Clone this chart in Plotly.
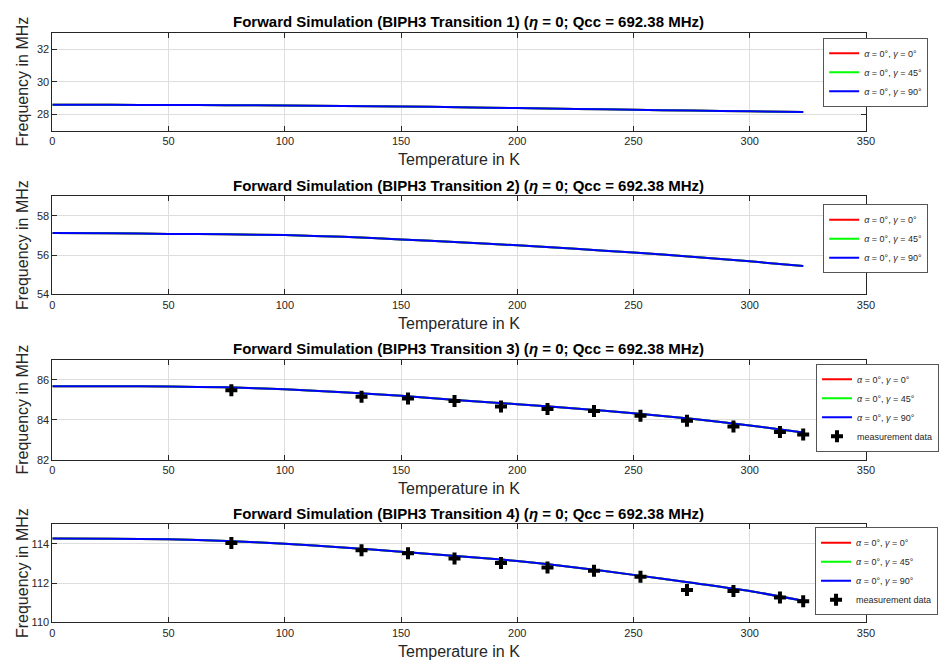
import plotly.graph_objects as go

# ---------------- data ----------------
T_sim = [0, 25, 50, 75, 100, 125, 150, 175, 200, 225, 250, 275, 300, 323]
f_sim_1 = [28.59, 28.59, 28.58, 28.57, 28.55, 28.52, 28.49, 28.44, 28.39, 28.34, 28.29, 28.24, 28.19, 28.15]
f_sim_2 = [57.12, 57.11, 57.08, 57.06, 57.02, 56.93, 56.80, 56.66, 56.50, 56.32, 56.13, 55.92, 55.68, 55.45]
f_sim_3 = [85.68, 85.68, 85.66, 85.62, 85.52, 85.38, 85.20, 84.98, 84.78, 84.56, 84.33, 84.05, 83.72, 83.36]
f_sim_4 = [114.27, 114.26, 114.23, 114.15, 114.00, 113.82, 113.60, 113.37, 113.13, 112.80, 112.42, 112.02, 111.60, 111.10]

T_meas = [77, 133, 153, 173, 193, 213, 233, 253, 273, 293, 313, 323]
f_meas_3 = [85.48, 85.15, 85.06, 84.94, 84.67, 84.54, 84.44, 84.20, 83.95, 83.67, 83.39, 83.27]
f_meas_4 = [114.05, 113.68, 113.52, 113.26, 113.03, 112.80, 112.63, 112.33, 111.65, 111.60, 111.27, 111.08]

transitions = ["1", "2", "3", "4"]
y_ranges = [(27, 33), (54, 59), (82, 87), (110, 115)]
y_ticks = [[28, 30, 32], [54, 56, 58], [82, 84, 86], [110, 112, 114]]
x_ticks = [0, 50, 100, 150, 200, 250, 300, 350]
series_names = ["<i>α</i> = 0°, <i>γ</i> = 0°", "<i>α</i> = 0°, <i>γ</i> = 45°", "<i>α</i> = 0°, <i>γ</i> = 90°"]
series_colors = ["#ff0000", "#00ff00", "#0000ff"]
meas_name = "measurement data"

sims = [f_sim_1, f_sim_2, f_sim_3, f_sim_4]
meas = [None, None, f_meas_3, f_meas_4]

# ---------------- layout geometry (pixels) ----------------
W, H = 950, 668
x_left, x_right = 50, 874
panels_px = [(33, 132), (198, 297), (363, 464), (529, 628)]
legend_px = [(937, 38), (937, 206), (948, 367), (947, 532)]

fig = go.Figure()
layout = dict(
    width=W, height=H,
    margin=dict(l=0, r=0, t=0, b=0),
    paper_bgcolor="white", plot_bgcolor="white",
    font=dict(family="Liberation Sans, Arial, sans-serif", color="#262626", size=11),
    showlegend=True,
)
annotations = []
ax_color = "#262626"

for i in range(4):
    idx = "" if i == 0 else str(i + 1)
    xa = "x" + idx
    ya = "y" + idx
    lg = "legend" + idx
    for name, col, in zip(series_names, series_colors):
        fig.add_trace(go.Scatter(
            x=T_sim, y=sims[i], mode="lines", name=name,
            line=dict(color=col, width=2, shape="spline", smoothing=0.6),
            xaxis=xa, yaxis=ya, legend=lg,
        ))
    if meas[i] is not None:
        fig.add_trace(go.Scatter(
            x=T_meas, y=meas[i], mode="markers", name=meas_name,
            marker=dict(symbol="cross", size=10, color="black",
                        line=dict(width=0)),
            xaxis=xa, yaxis=ya, legend=lg,
        ))
    top, bot = panels_px[i]
    ydom = [1 - bot / H, 1 - top / H]
    xdom = [x_left / W, x_right / W]
    common = dict(
        showline=True, linecolor=ax_color, linewidth=1, mirror="ticks",
        ticks="inside", ticklen=5, tickcolor=ax_color, tickwidth=1,
        showgrid=True, gridcolor="#dedede", gridwidth=1,
        zeroline=False, tickfont=dict(size=11, color="#262626"),
    )
    layout["xaxis" + idx] = dict(
        domain=xdom, range=[0, 350], tickvals=x_ticks, anchor=ya, **common)
    layout["yaxis" + idx] = dict(
        domain=ydom, range=list(y_ranges[i]), tickvals=y_ticks[i], anchor=xa, **common)
    lx, ly = legend_px[i]
    layout[lg] = dict(
        x=lx / W, y=1 - ly / H, xanchor="right", yanchor="top",
        xref="paper", yref="paper",
        bgcolor="white", bordercolor="#555555", borderwidth=1,
        font=dict(size=9, color="#262626"),
        itemwidth=30, tracegroupgap=0,
    )
    # title
    annotations.append(dict(
        text="<b>Forward Simulation (BIPH3 Transition %s) (<i>η</i> = 0; Qcc = 692.38 MHz)</b>" % transitions[i],
        xref="paper", yref="paper",
        x=471 / W, y=1 - (top - 11) / H,
        xanchor="center", yanchor="middle", showarrow=False,
        font=dict(size=15, color="black"),
    ))
    # x axis title
    annotations.append(dict(
        text="Temperature in K", xref="paper", yref="paper",
        x=(x_left + x_right) / 2 / W, y=1 - (bot + 29) / H,
        xanchor="center", yanchor="middle", showarrow=False,
        font=dict(size=16, color="#262626"),
    ))
    # y axis title
    annotations.append(dict(
        text="Frequency in MHz", xref="paper", yref="paper",
        x=20 / W, y=1 - (top + bot) / 2 / H,
        xanchor="center", yanchor="middle", showarrow=False, textangle=-90,
        font=dict(size=16, color="#262626"),
    ))

layout["annotations"] = annotations
fig.update_layout(**layout)
fig.write_html("out.html")
